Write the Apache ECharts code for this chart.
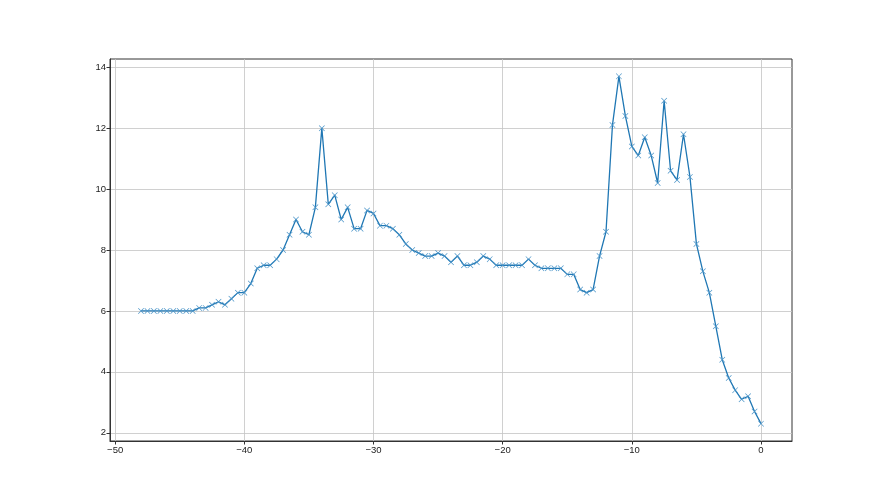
<!DOCTYPE html>
<html>
<head>
<meta charset="utf-8">
<script src="https://cdn.jsdelivr.net/npm/echarts@6/dist/echarts.min.js"></script>
<style>html,body{margin:0;padding:0;background:#fff}#c{width:880px;height:495px}</style>
</head>
<body>
<div id="c"></div>
<script>
const xStart = -48;
const xStep = 0.5;
const values = [
  6.0, 6.0, 6.0, 6.0, 6.0, 6.0, 6.0, 6.0, 6.0, 6.1,
  6.1, 6.2, 6.3, 6.2, 6.4, 6.6, 6.6, 6.9, 7.4, 7.5,
  7.5, 7.7, 8.0, 8.5, 9.0, 8.6, 8.5, 9.4, 12.0, 9.5,
  9.8, 9.0, 9.4, 8.7, 8.7, 9.3, 9.2, 8.8, 8.8, 8.7,
  8.5, 8.2, 8.0, 7.9, 7.8, 7.8, 7.9, 7.8, 7.6, 7.8,
  7.5, 7.5, 7.6, 7.8, 7.7, 7.5, 7.5, 7.5, 7.5, 7.5,
  7.7, 7.5, 7.4, 7.4, 7.4, 7.4, 7.2, 7.2, 6.7, 6.6,
  6.7, 7.8, 8.6, 12.1, 13.7, 12.4, 11.4, 11.1, 11.7, 11.1,
  10.2, 12.9, 10.6, 10.3, 11.8, 10.4, 8.2, 7.3, 6.6, 5.5,
  4.4, 3.8, 3.4, 3.1, 3.2, 2.7, 2.3
];
const xTicks = [-50, -40, -30, -20, -10, 0];
const yTicks = [2, 4, 6, 8, 10, 12, 14];

const xs = values.map((v, i) => xStart + i * xStep);
const points = values.map((v, i) => [xs[i], v]);

const xMin = -50.4, xMax = 2.4;
const yMin = 1.73, yMax = 14.27;

const font = {fontFamily: 'Liberation Sans', fontSize: 9.5, color: '#222'};
const xPath = 'path://M0,0.8L0.8,0L5,4.2L9.2,0L10,0.8L5.8,5L10,9.2L9.2,10L5,5.8L0.8,10L0,9.2L4.2,5Z';

const chart = echarts.init(document.getElementById('c'), null, {renderer: 'canvas'});
chart.setOption({
  animation: false,
  backgroundColor: '#fff',
  grid: {left: 110, right: 88, top: 59, bottom: 54, show: true, borderColor: '#333', borderWidth: 1, backgroundColor: 'transparent'},
  xAxis: {
    type: 'value', min: xMin, max: xMax,
    axisLine: {show: true, onZero: false, lineStyle: {color: '#333', width: 1}},
    axisTick: {show: true, inside: false, length: 3.5, lineStyle: {color: '#333'}, customValues: xTicks},
    axisLabel: Object.assign({margin: 4, customValues: xTicks, formatter: v => (v < 0 ? '\u2212' + Math.abs(v) : String(v))}, font),
    splitLine: {show: true, lineStyle: {color: '#c4c4c4', width: 0.8}}
  },
  yAxis: {
    type: 'value', min: yMin, max: yMax,
    axisLine: {show: true, onZero: false, lineStyle: {color: '#333', width: 1}},
    axisTick: {show: true, inside: false, length: 3.5, lineStyle: {color: '#333'}, customValues: yTicks},
    axisLabel: Object.assign({margin: 4, customValues: yTicks}, font),
    splitLine: {show: true, lineStyle: {color: '#c4c4c4', width: 0.8}}
  },
  series: [{
    type: 'line',
    data: points,
    symbol: xPath,
    symbolSize: 6,
    showAllSymbol: true,
    lineStyle: {color: '#1f77b4', width: 1.3},
    itemStyle: {color: '#4a94c8'},
    z: 3
  }]
});
</script>
</body>
</html>
